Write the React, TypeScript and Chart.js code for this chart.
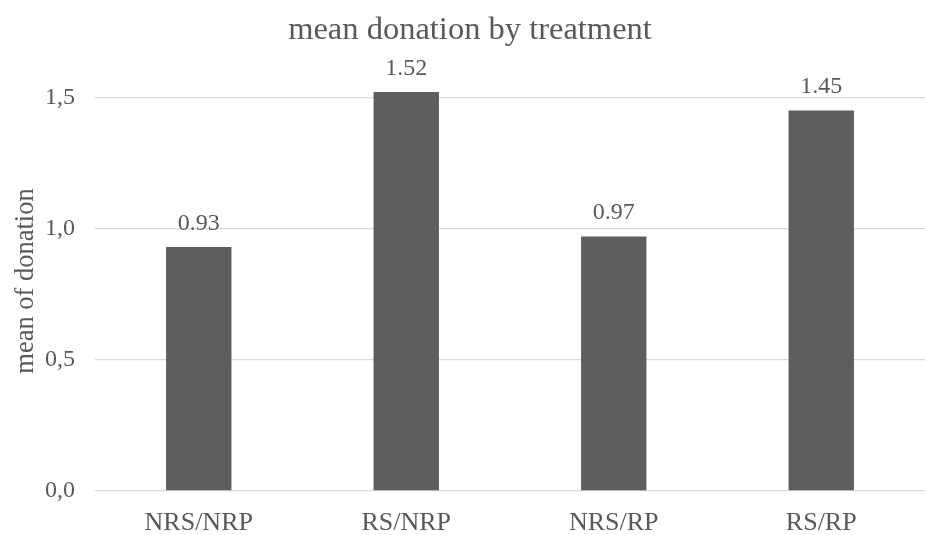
import React, { useEffect, useRef } from "react";
import { Chart, registerables } from "chart.js";

Chart.register(...registerables);

const categories = ["NRS/NRP", "RS/NRP", "NRS/RP", "RS/RP"];
const meanDonation = [0.93, 1.52, 0.97, 1.45];
const yTickValues = [0, 0.5, 1.0, 1.5];

const FONT = "'Liberation Serif', 'Times New Roman', serif";
const TEXT = "#595959";

const valueLabels = {
  id: "valueLabels",
  afterDatasetsDraw(chart: any) {
    const ctx = chart.ctx;
    const meta = chart.getDatasetMeta(0);
    ctx.save();
    ctx.font = `24px ${FONT}`;
    ctx.fillStyle = TEXT;
    ctx.textAlign = "center";
    ctx.textBaseline = "alphabetic";
    meta.data.forEach((bar: any, i: number) => {
      const v = chart.data.datasets[0].data[i] as number;
      ctx.fillText(v.toFixed(2), bar.x, bar.y - 17);
    });
    ctx.restore();
  },
};

export default function App() {
  const ref = useRef<HTMLCanvasElement>(null);
  useEffect(() => {
    if (!ref.current) return;
    const chart = new Chart(ref.current, {
      type: "bar",
      data: {
        labels: categories,
        datasets: [
          {
            data: meanDonation,
            backgroundColor: "#5e5e5e",
            categoryPercentage: 1,
            barPercentage: 0.315,
          },
        ],
      },
      options: {
        animation: false,
        responsive: false,
        maintainAspectRatio: false,
        layout: { padding: { left: 15, right: 0, top: 0, bottom: 0 } },
        plugins: {
          legend: { display: false },
          tooltip: { enabled: false },
          title: {
            display: true,
            text: "mean donation by treatment",
            color: TEXT,
            font: { family: FONT, size: 32.5, weight: "normal" },
            padding: { top: 11, bottom: 21 },
          },
        },
        scales: {
          x: {
            grid: { display: false, drawTicks: false },
            border: { display: false },
            ticks: {
              color: TEXT,
              font: { family: FONT, size: 26 },
              padding: 17,
            },
            afterFit(axis: any) {
              axis.height = 44;
            },
          },
          y: {
            min: 0,
            max: 1.6,
            afterBuildTicks(axis: any) {
              axis.ticks = yTickValues.map((v) => ({ value: v }));
            },
            grid: { color: "#d9d9d9", lineWidth: 1.3, drawTicks: false },
            border: { display: false },
            ticks: {
              color: TEXT,
              font: { family: FONT, size: 24 },
              padding: 20,
              callback: (v: any) => Number(v).toFixed(1).replace(".", ","),
            },
            title: {
              display: true,
              text: "mean of donation",
              color: TEXT,
              font: { family: FONT, size: 26.5, lineHeight: 0.8 },
              padding: { top: 0, bottom: 0 },
            },
            afterFit(axis: any) {
              axis.width = 80;
            },
          },
        },
      },
      plugins: [valueLabels],
    });
    return () => chart.destroy();
  }, []);
  return (
    <div style={{ position: "fixed", left: 0, top: 0, width: 925, height: 535, background: "#fff" }}>
      <canvas ref={ref} width={925} height={535} style={{ width: 925, height: 535 }} />
    </div>
  );
}
